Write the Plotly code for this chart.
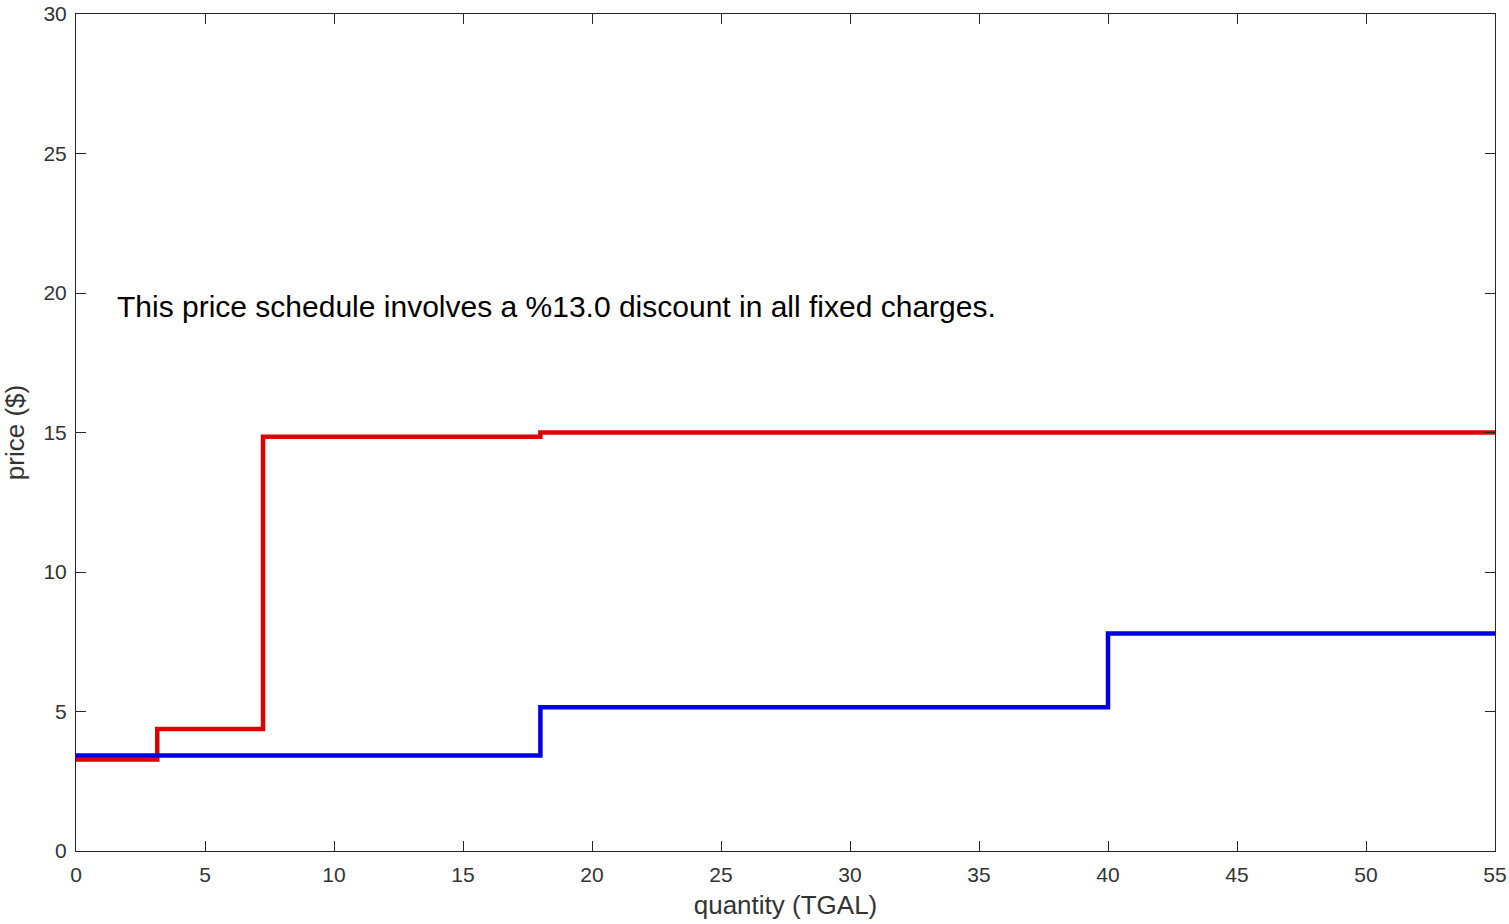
import plotly.graph_objects as go

# Data (step functions)
red_x = [0, 3.15, 3.15, 7.25, 7.25, 18, 18, 55]
red_y = [3.28, 3.28, 4.37, 4.37, 14.85, 14.85, 15.0, 15.0]
blue_x = [0, 18, 18, 40, 40, 55]
blue_y = [3.42, 3.42, 5.15, 5.15, 7.8, 7.8]

x_ticks = [0, 5, 10, 15, 20, 25, 30, 35, 40, 45, 50, 55]
y_ticks = [0, 5, 10, 15, 20, 25, 30]

note = "This price schedule involves a %13.0 discount in all fixed charges."

FONT = "Liberation Sans, Arial"

fig = go.Figure()
fig.add_trace(go.Scatter(x=red_x, y=red_y, mode="lines",
                         line=dict(color="#e00000", width=4.5), showlegend=False))
fig.add_trace(go.Scatter(x=blue_x, y=blue_y, mode="lines",
                         line=dict(color="#0000e0", width=4.5), showlegend=False))

fig.add_annotation(x=1.5, y=19.5, xref="x", yref="y", text=note, showarrow=False,
                   xanchor="left", yanchor="middle",
                   font=dict(family=FONT, size=30, color="#000000"))

axis_common = dict(showline=True, linecolor="#262626", linewidth=1, mirror="allticks",
                   ticks="inside", ticklen=10, tickcolor="#262626", showgrid=False,
                   zeroline=False, automargin=False,
                   tickfont=dict(family=FONT, size=21, color="#333333"))

fig.update_layout(
    width=1509, height=924,
    margin=dict(l=76, r=14, t=14, b=73),
    paper_bgcolor="white", plot_bgcolor="white",
    xaxis=dict(range=[0, 55], tickvals=x_ticks, ticklabelstandoff=5,
               title=dict(text="quantity (TGAL)", standoff=10,
                          font=dict(family=FONT, size=26, color="#333333")),
               **axis_common),
    yaxis=dict(range=[0, 30], tickvals=y_ticks, ticklabelstandoff=4,
               title=dict(text="price ($)", standoff=14,
                          font=dict(family=FONT, size=26, color="#333333")),
               **axis_common),
)

fig.write_html("out.html")
